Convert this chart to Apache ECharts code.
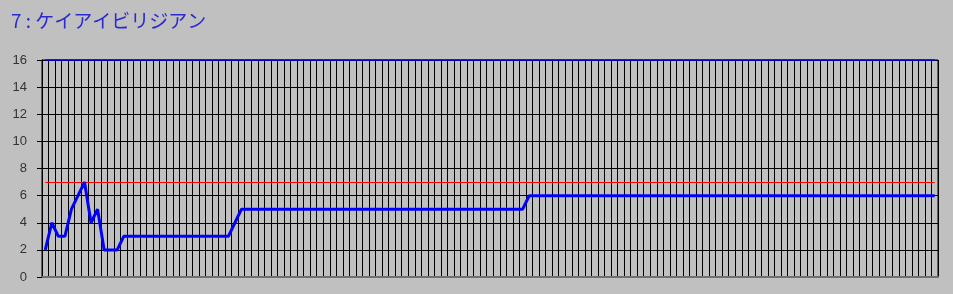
<!DOCTYPE html>
<html>
<head>
<meta charset="utf-8">
<script src="https://cdn.jsdelivr.net/npm/echarts@6/dist/echarts.min.js"></script>
<style>
html,body{margin:0;padding:0;background:#C0C0C0;}
#c{width:953px;height:294px;}
</style>
</head>
<body>
<div id="c"></div>
<script>
const titleText = "7 : ケイアイビリジアン";
const categories = [
 1,2,3,4,5,6,7,8,9,10,11,12,13,14,15,16,17,18,19,20,
 21,22,23,24,25,26,27,28,29,30,31,32,33,34,35,36,37,38,39,40,
 41,42,43,44,45,46,47,48,49,50,51,52,53,54,55,56,57,58,59,60,
 61,62,63,64,65,66,67,68,69,70,71,72,73,74,75,76,77,78,79,80,
 81,82,83,84,85,86,87,88,89,90,91,92,93,94,95,96,97,98,99,100,
 101,102,103,104,105,106,107,108,109,110,111,112,113,114,115,116,117,118,119,120,
 121,122,123,124,125,126,127,128,129,130,131,132,133,134,135,136,137
];
const positions = [
 2,4,3,3,5,6,7,4,5,2,2,2,
 3,3,3,3,3,3,3,3,3,3,3,3,3,3,3,3,3,
 4,
 5,5,5,5,5,5,5,5,5,5,5,5,5,5,5,5,5,5,5,5,5,5,
 5,5,5,5,5,5,5,5,5,5,5,5,5,5,5,5,5,5,5,5,5,5,
 6,6,6,6,6,6,6,6,6,6,6,6,6,6,6,6,6,6,6,6,6,
 6,6,6,6,6,6,6,6,6,6,6,6,6,6,6,6,6,6,6,6,6,
 6,6,6,6,6,6,6,6,6,6,6,6,6,6,6,6,6,6,6,6,6
];
const limitValue = 7;
const topValue = 16;
const yTicks = [0,2,4,6,8,10,12,14,16];

const chart = echarts.init(document.getElementById('c'), null, {renderer:'canvas'});
chart.setOption({
  backgroundColor:'#C0C0C0',
  animation:false,
  title:{
    text:titleText, left:6, top:6,
    textStyle:{fontFamily:'Noto Sans CJK JP', fontSize:19, fontWeight:'normal', color:'#2a2ad0'}
  },
  grid:{left:42, right:15, top:60, bottom:17, show:true, borderColor:'#000', borderWidth:1, backgroundColor:'transparent'},
  xAxis:{
    type:'category', data:categories, boundaryGap:true,
    axisLine:{show:true, lineStyle:{color:'#707070', width:2}},
    axisTick:{show:false}, axisLabel:{show:false},
    splitLine:{show:true, interval:0, lineStyle:{color:'#000', width:1}}
  },
  yAxis:{
    type:'value', min:yTicks[0], max:yTicks[yTicks.length-1], interval:2,
    axisLine:{show:true, lineStyle:{color:'#000', width:1}},
    axisTick:{show:true, length:5, lineStyle:{color:'#000'}},
    axisLabel:{color:'#333', fontFamily:'Liberation Sans', fontSize:13, margin:15},
    splitLine:{show:true, lineStyle:{color:'#000', width:1}}
  },
  series:[{
    type:'line', data:positions, symbol:'none',
    lineStyle:{color:'#0000FF', width:3},
    markLine:{
      silent:true, symbol:'none', label:{show:false}, animation:false,
      data:[
        [{coord:[0,limitValue], lineStyle:{color:'#FF0000', width:1, type:'solid'}},{coord:[categories.length-1,limitValue]}],
        [{coord:[0,topValue], lineStyle:{color:'#0000FF', width:1.5, type:'solid'}},{coord:[categories.length-1,topValue]}]
      ]
    },
    z:5
  }]
});
</script>
</body>
</html>
